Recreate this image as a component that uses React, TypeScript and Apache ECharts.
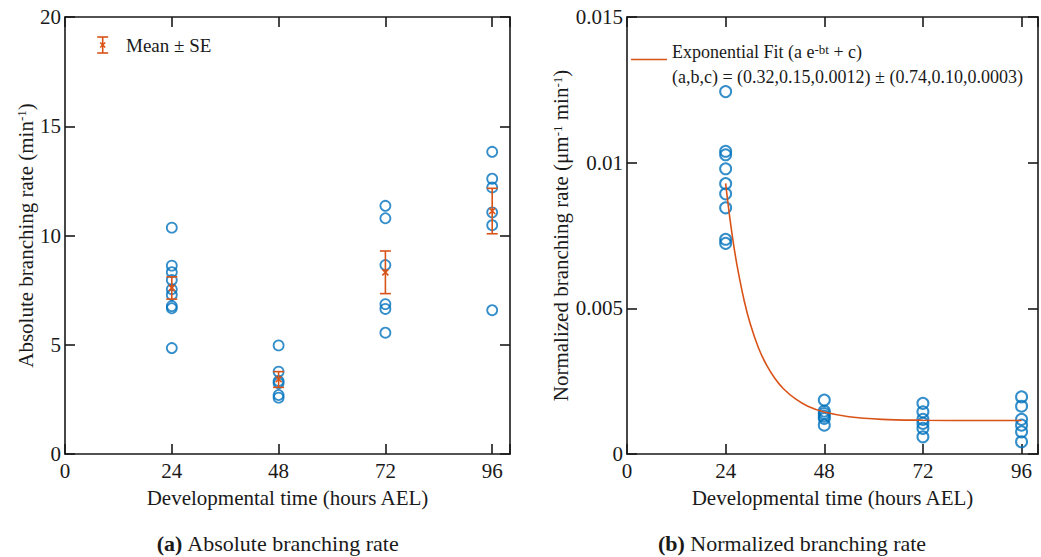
import React, { useEffect, useRef } from "react";
import * as echarts from "echarts";

// ---------- data ----------
const TIMES = [24, 48, 72, 96];

// Absolute branching rate (min^-1), individual samples
const ABS_24 = [10.36, 8.62, 8.32, 7.96, 7.54, 7.28, 6.77, 6.67, 4.85];
const ABS_48 = [4.97, 3.77, 3.34, 3.24, 2.7, 2.58];
const ABS_72 = [11.36, 10.79, 8.65, 6.86, 6.64, 5.55];
const ABS_96 = [13.83, 12.6, 12.2, 11.06, 10.47, 6.58];
const ABS_GROUPS = [ABS_24, ABS_48, ABS_72, ABS_96];

// Mean ± SE
const ABS_MEAN = [7.6, 3.42, 8.31, 11.12];
const ABS_SE_LOW = [7.09, 3.05, 7.34, 10.08];
const ABS_SE_HIGH = [8.11, 3.77, 9.29, 12.16];

// Normalized branching rate (µm^-1 min^-1)
const NORM_24 = [0.01244, 0.01039, 0.01027, 0.00979, 0.00928, 0.00893, 0.00845, 0.00737, 0.00723];
const NORM_48 = [0.00185, 0.00147, 0.00139, 0.0013, 0.00122, 0.00099];
const NORM_72 = [0.00174, 0.00145, 0.00119, 0.00105, 0.00088, 0.00059];
const NORM_96 = [0.00196, 0.00164, 0.00119, 0.00099, 0.00076, 0.00042];
const NORM_GROUPS = [NORM_24, NORM_48, NORM_72, NORM_96];

// Exponential fit curve
const FIT_T = [24, 25, 26, 27, 28.5, 30, 32, 34, 36, 38, 41, 44, 48, 54, 62, 72, 84, 96];
const FIT_V = [0.00929, 0.00812, 0.00713, 0.0063, 0.00527, 0.00446, 0.00364, 0.00304, 0.00259, 0.00225, 0.00189, 0.00164, 0.00144, 0.00128, 0.00119, 0.00116, 0.00115, 0.00115];

// ---------- styles ----------
const FONT = '"Liberation Serif", "Times New Roman", serif';
const AXIS_COLOR = "#1a1a1a";
const BLUE = "#0072BD";
const ORANGE = "#D95319";

function buildOption() {
  const absPoints: number[][] = [];
  ABS_GROUPS.forEach((g, i) => g.forEach((v) => absPoints.push([TIMES[i], v])));
  const normPoints: number[][] = [];
  NORM_GROUPS.forEach((g, i) => g.forEach((v) => normPoints.push([TIMES[i], v])));
  const errData = TIMES.map((t, i) => [t, ABS_MEAN[i], ABS_SE_LOW[i], ABS_SE_HIGH[i]]);
  const fitData = FIT_T.map((t, i) => [t, FIT_V[i]]);

  const axisLine = { show: true, onZero: false, lineStyle: { color: AXIS_COLOR, width: 1.6 } };
  const tick = { show: true, inside: true, length: 10, lineStyle: { color: AXIS_COLOR, width: 1.6 } };
  const labelBase = { color: AXIS_COLOR, fontFamily: FONT, fontSize: 21 };
  const supRich = {
    sup: { fontSize: 13, fontFamily: FONT, color: AXIS_COLOR, verticalAlign: "top" as const },
  };

  const xFmt = (v: number) => (v % 24 === 0 ? String(v) : "");

  const mkX = (gi: number, pos: "bottom" | "top", labels: boolean) => ({
    type: "value",
    gridIndex: gi,
    position: pos,
    min: 0,
    max: 100,
    interval: 24,
    axisLine,
    axisTick: tick,
    splitLine: { show: false },
    axisLabel: labels
      ? { ...labelBase, margin: 6, formatter: xFmt, showMinLabel: true, showMaxLabel: true }
      : { show: false },
    ...(labels
      ? {
          name: "Developmental time (hours AEL)",
          nameLocation: "middle",
          nameGap: 33,
          nameTextStyle: { ...labelBase },
        }
      : {}),
  });

  const mkY = (
    gi: number,
    pos: "left" | "right",
    labels: boolean,
    max: number,
    interval: number,
    fmt: (v: number) => string,
    name?: string,
    nameGap?: number
  ) => ({
    type: "value",
    gridIndex: gi,
    position: pos,
    min: 0,
    max,
    interval,
    axisLine,
    axisTick: tick,
    splitLine: { show: false },
    axisLabel: labels
      ? { ...labelBase, margin: 4, formatter: fmt, showMinLabel: true, showMaxLabel: true }
      : { show: false },
    ...(name
      ? {
          name,
          nameLocation: "middle",
          nameGap,
          nameRotate: 90,
          nameTextStyle: { ...labelBase, rich: supRich },
        }
      : {}),
  });

  const absFmt = (v: number) => String(v);
  const normFmt = (v: number) => (v === 0 ? "0" : String(parseFloat(v.toFixed(4))));

  return {
    animation: false,
    backgroundColor: "#ffffff",
    grid: [
      { left: 65, top: 17, width: 445, height: 437, containLabel: false },
      { left: 627, top: 17, width: 418, height: 437, containLabel: false },
    ],
    xAxis: [mkX(0, "bottom", true), mkX(0, "top", false), mkX(1, "bottom", true), mkX(1, "top", false)],
    yAxis: [
      mkY(0, "left", true, 20, 5, absFmt, "Absolute branching rate (min{sup|-1})", 26),
      mkY(0, "right", false, 20, 5, absFmt),
      mkY(1, "left", true, 0.015, 0.005, normFmt, "Normalized branching rate (μm{sup|-1} min{sup|-1})", 54),
      mkY(1, "right", false, 0.015, 0.005, normFmt),
    ],
    series: [
      {
        type: "scatter",
        xAxisIndex: 0,
        yAxisIndex: 0,
        data: absPoints,
        symbol: "circle",
        symbolSize: 10,
        itemStyle: { color: "rgba(0,0,0,0)", borderColor: BLUE, borderWidth: 1.8 },
        z: 2,
      },
      {
        type: "custom",
        xAxisIndex: 0,
        yAxisIndex: 0,
        data: errData,
        encode: { x: 0, y: [1, 2, 3] },
        z: 3,
        renderItem: (_params: any, api: any) => {
          const x = api.value(0);
          const pm = api.coord([x, api.value(1)]);
          const pl = api.coord([x, api.value(2)]);
          const ph = api.coord([x, api.value(3)]);
          const w = 5.5;
          const c = 3;
          const style = { stroke: ORANGE, lineWidth: 1.6, fill: "none" };
          return {
            type: "group",
            children: [
              { type: "line", shape: { x1: pl[0], y1: pl[1], x2: ph[0], y2: ph[1] }, style },
              { type: "line", shape: { x1: pl[0] - w, y1: pl[1], x2: pl[0] + w, y2: pl[1] }, style },
              { type: "line", shape: { x1: ph[0] - w, y1: ph[1], x2: ph[0] + w, y2: ph[1] }, style },
              { type: "line", shape: { x1: pm[0] - c, y1: pm[1] - c, x2: pm[0] + c, y2: pm[1] + c }, style },
              { type: "line", shape: { x1: pm[0] - c, y1: pm[1] + c, x2: pm[0] + c, y2: pm[1] - c }, style },
            ],
          };
        },
      },
      {
        type: "scatter",
        xAxisIndex: 2,
        yAxisIndex: 2,
        data: normPoints,
        symbol: "circle",
        symbolSize: 11,
        itemStyle: { color: "rgba(0,0,0,0)", borderColor: BLUE, borderWidth: 2 },
        z: 2,
      },
      {
        type: "line",
        xAxisIndex: 2,
        yAxisIndex: 2,
        data: fitData,
        smooth: 0.35,
        showSymbol: false,
        symbol: "none",
        lineStyle: { color: ORANGE, width: 1.6 },
        z: 3,
      },
    ],
    graphic: [
      // left legend: error bar icon
      {
        type: "group",
        children: [
          { type: "line", shape: { x1: 102.7, y1: 37, x2: 102.7, y2: 53 }, style: { stroke: ORANGE, lineWidth: 1.6 } },
          { type: "line", shape: { x1: 97.2, y1: 37, x2: 108.2, y2: 37 }, style: { stroke: ORANGE, lineWidth: 1.6 } },
          { type: "line", shape: { x1: 97.2, y1: 53, x2: 108.2, y2: 53 }, style: { stroke: ORANGE, lineWidth: 1.6 } },
          { type: "line", shape: { x1: 100.2, y1: 42.5, x2: 105.2, y2: 47.5 }, style: { stroke: ORANGE, lineWidth: 1.6 } },
          { type: "line", shape: { x1: 100.2, y1: 47.5, x2: 105.2, y2: 42.5 }, style: { stroke: ORANGE, lineWidth: 1.6 } },
          {
            type: "text",
            x: 126,
            y: 45,
            style: {
              text: "Mean ± SE",
              fontFamily: FONT,
              fontSize: 19,
              fill: AXIS_COLOR,
              verticalAlign: "middle",
              align: "left",
            },
          },
        ],
      },
      // right legend
      {
        type: "group",
        children: [
          { type: "line", shape: { x1: 631, y1: 59.5, x2: 667, y2: 59.5 }, style: { stroke: ORANGE, lineWidth: 1.6 } },
          {
            type: "text",
            x: 672,
            y: 52,
            style: {
              text: "Exponential Fit (a e{sup|-bt} + c)",
              fontFamily: FONT,
              fontSize: 18,
              fill: AXIS_COLOR,
              verticalAlign: "middle",
              align: "left",
              rich: { sup: { fontSize: 13, fontFamily: FONT, fill: AXIS_COLOR, verticalAlign: "top" } },
            },
          },
          {
            type: "text",
            x: 672,
            y: 77,
            style: {
              text: "(a,b,c) = (0.32,0.15,0.0012) ± (0.74,0.10,0.0003)",
              fontFamily: FONT,
              fontSize: 18,
              fill: AXIS_COLOR,
              verticalAlign: "middle",
              align: "left",
            },
          },
        ],
      },
      // captions
      {
        type: "text",
        x: 278,
        y: 543,
        style: {
          text: "{b|(a)} Absolute branching rate",
          fontFamily: FONT,
          fontSize: 22,
          fill: AXIS_COLOR,
          align: "center",
          verticalAlign: "middle",
          rich: { b: { fontFamily: FONT, fontSize: 22, fontWeight: "bold", fill: AXIS_COLOR } },
        },
      },
      {
        type: "text",
        x: 792,
        y: 543,
        style: {
          text: "{b|(b)} Normalized branching rate",
          fontFamily: FONT,
          fontSize: 22,
          fill: AXIS_COLOR,
          align: "center",
          verticalAlign: "middle",
          rich: { b: { fontFamily: FONT, fontSize: 22, fontWeight: "bold", fill: AXIS_COLOR } },
        },
      },
    ],
  };
}

export default function App() {
  const ref = useRef<HTMLDivElement>(null);
  useEffect(() => {
    document.body.style.margin = "0";
    if (!ref.current) return;
    const chart = echarts.init(ref.current, undefined, { renderer: "svg" });
    chart.setOption(buildOption() as any);
    return () => chart.dispose();
  }, []);
  return <div ref={ref} style={{ width: 1041, height: 557 }} />;
}
